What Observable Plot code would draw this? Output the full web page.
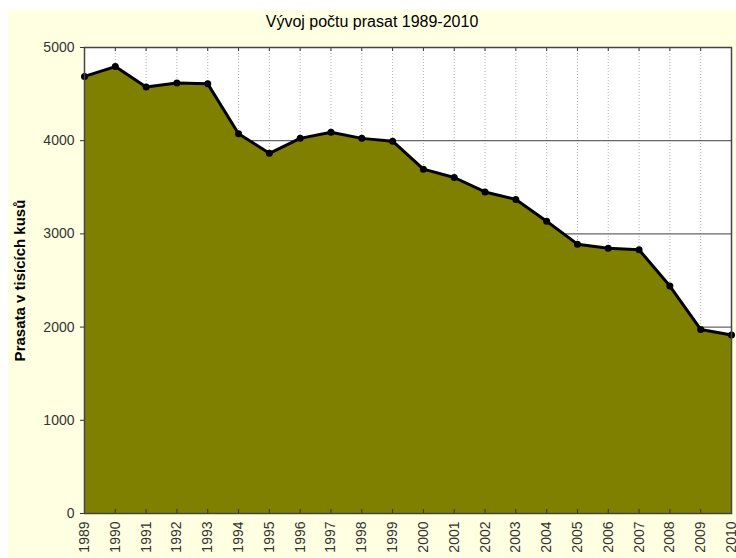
<!DOCTYPE html>
<html>
<head>
<meta charset="utf-8">
<script src="https://cdn.jsdelivr.net/npm/d3@7"></script>
<script src="https://cdn.jsdelivr.net/npm/@observablehq/plot@0.6"></script>
<style>
  html, body { margin: 0; padding: 0; background: #ffffff; }
  #panel { position: absolute; left: 8px; top: 10px; width: 728px; height: 548px; background: #FFFFE1; font-family: "Liberation Sans", Arial, sans-serif; overflow: hidden; }
  #title { height: 30px; line-height: 24px; text-align: center; font-size: 16px; color: #000; }
  svg { display: block; overflow: visible; }
</style>
</head>
<body>
<div id="panel">
  <div id="title">Vývoj počtu prasat 1989-2010</div>
  <div id="chart"></div>
</div>
<script>
const years = [1989,1990,1991,1992,1993,1994,1995,1996,1997,1998,1999,2000,2001,2002,2003,2004,2005,2006,2007,2008,2009,2010];
const pigs  = [4690,4795,4575,4620,4610,4075,3865,4025,4090,4025,3995,3695,3605,3450,3370,3135,2890,2845,2830,2440,1975,1915];
const yTicks = [0,1000,2000,3000,4000,5000];
const gridYValues = [1000,2000,3000,4000];
const yLabel = "Prasata v tisících kusů";

const data = years.map((y, i) => ({year: y, value: pigs[i]}));

const chart = Plot.plot({
  width: 728,
  height: 518,
  marginTop: 7,
  marginBottom: 45,
  marginLeft: 76,
  marginRight: 5,
  style: {background: "transparent", fontFamily: "Liberation Sans, Arial, sans-serif", fontSize: "14px"},
  x: {domain: [1989, 2010]},
  y: {domain: [0, 5000]},
  marks: [
    Plot.frame({fill: "#ffffff"}),
    Plot.gridX({ticks: years, stroke: "#b0b0b0", strokeOpacity: 1, strokeDasharray: "1,2"}),
    Plot.gridY({ticks: gridYValues, stroke: "#666666", strokeOpacity: 1, strokeWidth: 1.2}),
    Plot.areaY(data, {x: "year", y: "value", fill: "#808000"}),
    Plot.line(data, {x: "year", y: "value", stroke: "#000", strokeWidth: 3}),
    Plot.dot(data, {x: "year", y: "value", fill: "#000", r: 3.5}),
    Plot.ruleX(years, {x: d => d, stroke: "#333", insetTop: 462}),
    Plot.ruleX(years, {x: d => d, stroke: "#333", insetBottom: 462}),
    Plot.frame({stroke: "#444", strokeWidth: 1.5}),
    Plot.axisY({ticks: yTicks, tickFormat: d => String(d), tickSize: 4, tickPadding: 6, fontSize: 14, color: "#333",
      label: yLabel, labelAnchor: "center", labelOffset: 70, labelArrow: "none"}),
    Plot.axisX({ticks: years, tickFormat: d => String(d), tickRotate: -90, tickSize: 0, tickPadding: 8,
      fontSize: 14, color: "#333", label: null})
  ]
});
d3.select(chart).selectAll("g[aria-label='y-axis tick label'] text, g[aria-label='x-axis tick label'] text").style("font-size", "14px");
d3.select(chart).selectAll("g[aria-label='y-axis label'] text").style("font-weight", "bold").style("font-size", "15px").style("fill", "#000");
document.getElementById("chart").appendChild(chart);
</script>
</body>
</html>
